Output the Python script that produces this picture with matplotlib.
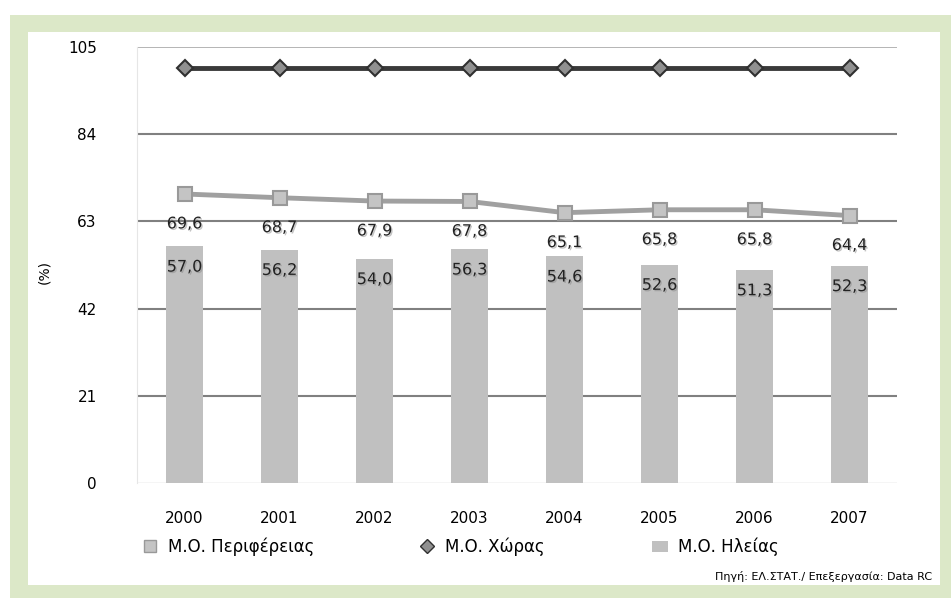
import matplotlib
matplotlib.use("Agg")
import matplotlib.pyplot as plt
from matplotlib.patches import Rectangle
from matplotlib.lines import Line2D
from matplotlib.patches import Patch
import matplotlib.patheffects as pe
import numpy as np

years = ["2000", "2001", "2002", "2003", "2004", "2005", "2006", "2007"]
region_avg = [69.6, 68.7, 67.9, 67.8, 65.1, 65.8, 65.8, 64.4]
country_avg = [100, 100, 100, 100, 100, 100, 100, 100]
ilia_avg = [57.0, 56.2, 54.0, 56.3, 54.6, 52.6, 51.3, 52.3]
yticks = [0, 21, 42, 63, 84, 105]

def fmt(v):
    return f"{v:.1f}".replace(".", ",")

plt.rcParams['font.family'] = ['DejaVu Sans']

fig = plt.figure(figsize=(9.51, 5.98), dpi=100)
fig.patch.set_facecolor("white")
fig.patches.append(Rectangle((10/951, 0), 1 - 10/951, (598-15)/598, transform=fig.transFigure,
                             facecolor="#dce8c8", edgecolor="none", zorder=-2))
fig.patches.append(Rectangle((28/951, 13/598), (940-28)/951, (585-32)/598, transform=fig.transFigure,
                             facecolor="white", edgecolor="none", zorder=-1))

ax = fig.add_axes([137/951, (598-483)/598, (897-137)/951, (483-47)/598])
ax.set_facecolor("none")
x = np.arange(len(years))

ax.bar(x, ilia_avg, width=0.38, color="#c0c0c0", zorder=2)
ax.plot(x, region_avg, color="#a0a0a0", lw=3.5, marker="s", markersize=10,
        markerfacecolor="#c4c4c4", markeredgecolor="#999999", markeredgewidth=1.5, zorder=3)
ax.plot(x, country_avg, color="#3a3a3a", lw=3.5, marker="D", markersize=8,
        markerfacecolor="#909090", markeredgecolor="#303030", markeredgewidth=1.5, zorder=4)

shadow = [pe.SimplePatchShadow(offset=(1, -1), shadow_rgbFace="#888888", alpha=0.5), pe.Normal()]
for xi, v in zip(x, region_avg):
    ax.text(xi, v - 7.2, fmt(v), ha="center", va="center", fontsize=11.5, color="#222222",
            zorder=5, path_effects=shadow)
for xi, v in zip(x, ilia_avg):
    ax.text(xi, v - 5.0, fmt(v), ha="center", va="center", fontsize=11.5, color="#222222",
            zorder=5, path_effects=shadow)

ax.set_xlim(-0.5, len(years) - 0.5)
ax.set_ylim(0, 105)
ax.set_yticks(yticks)
ax.set_yticklabels([str(t) for t in yticks], fontsize=11)
ax.set_xticks(x)
ax.set_xticklabels(years, fontsize=11)
ax.tick_params(axis="y", length=0, pad=29)
ax.tick_params(axis="x", length=0, pad=20)
ax.grid(axis="y", color="#808080", lw=1.5, zorder=1)
ax.get_ygridlines()[-1].set_color("#a8a8a8")
ax.get_ygridlines()[-1].set_linewidth(1.2)
for s in ["top", "right", "bottom"]:
    ax.spines[s].set_visible(False)
ax.spines["left"].set_color("#e6e6e6")
ax.get_ygridlines()[0].set_color("#d0d0d0")
ax.get_ygridlines()[0].set_linewidth(1.0)

fig.text(44/951, (598-272)/598, "(%)", rotation=90, ha="center", va="center", fontsize=10)

h1 = Line2D([], [], color="#a0a0a0", lw=0, marker="s", markersize=9,
            markerfacecolor="#c4c4c4", markeredgecolor="#999999")
h2 = Line2D([], [], color="#3a3a3a", lw=0, marker="D", markersize=7,
            markerfacecolor="#909090", markeredgecolor="#303030")
h3 = Patch(facecolor="#c0c0c0", edgecolor="none")
for h, lab, xpos in [(h1, "Μ.Ο. Περιφέρειας", 135), (h2, "Μ.Ο. Χώρας", 412), (h3, "Μ.Ο. Ηλείας", 645)]:
    fig.legend([h], [lab], loc="center left", bbox_to_anchor=(xpos/951, (598-547)/598),
               frameon=False, fontsize=12, handlelength=1.0, handletextpad=0.6, borderaxespad=0)

fig.text(932/951, (598-577)/598, "Πηγή: ΕΛ.ΣΤΑΤ./ Επεξεργασία: Data RC", ha="right", va="center", fontsize=8)

fig.savefig("out.png", dpi=100)
